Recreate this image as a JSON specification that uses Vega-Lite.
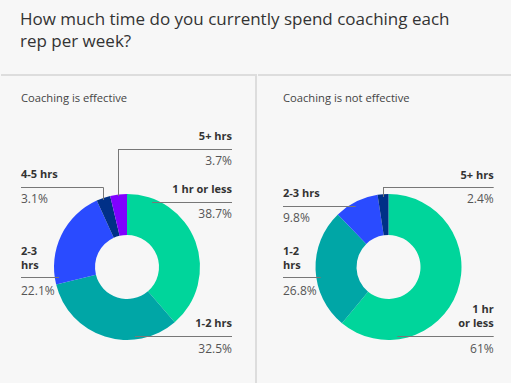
{
  "$schema": "https://vega.github.io/schema/vega-lite/v6.json",
  "background": "#f7f7f7",
  "autosize": {"type": "pad"},
  "padding": {"left": 0, "top": 11, "right": 0, "bottom": 0},
  "title": {
    "text": ["How much time do you currently spend coaching each", "rep per week?"],
    "anchor": "start",
    "dx": 20,
    "offset": 22,
    "fontSize": 17,
    "lineHeight": 22,
    "font": "Open Sans",
    "fontWeight": "normal",
    "color": "#333333"
  },
  "config": {
    "view": {"stroke": null},
    "axis": {"disable": true},
    "legend": {"disable": true}
  },
  "spacing": 0,
  "resolve": {"scale": {"color": "independent", "theta": "independent"}},
  "hconcat": [
    {
      "width": 255,
      "height": 311,
      "data": {"values": [
        {"panel": "Coaching is effective", "time": "1 hr or less", "label": "1 hr or less", "share": 0.387},
        {"panel": "Coaching is effective", "time": "1-2 hrs", "label": "1-2 hrs", "share": 0.325},
        {"panel": "Coaching is effective", "time": "2-3 hrs", "label": "2-3\nhrs", "share": 0.221},
        {"panel": "Coaching is effective", "time": "4-5 hrs", "label": "4-5 hrs", "share": 0.031},
        {"panel": "Coaching is effective", "time": "5+ hrs", "label": "5+ hrs", "share": 0.037}
      ]},
      "layer": [
        {
          "mark": {"type": "arc", "outerRadius": 73, "innerRadius": 32},
          "encoding": {
            "theta": {"field": "share", "type": "quantitative", "stack": "normalize"},
            "color": {"field": "time", "type": "nominal", "legend": null,
              "scale": {"domain": ["1 hr or less", "1-2 hrs", "2-3 hrs", "4-5 hrs", "5+ hrs"],
                        "range": ["#00d59b", "#00a6a6", "#2a4bff", "#003087", "#8000ff"]}},
            "x": {"datum": 126, "type": "quantitative", "axis": null, "scale": {"domain": [0, 255], "nice": false, "zero": false}},
            "y": {"datum": 193, "type": "quantitative", "axis": null, "scale": {"domain": [0, 311], "nice": false, "zero": false, "reverse": true}}
          }
        },
        {
          "transform": [{"aggregate": [{"op": "count", "as": "n"}], "groupby": ["panel"]}],
          "mark": {"type": "rule", "color": "#dddddd", "strokeWidth": 2},
          "encoding": {"x": {"datum": 0}, "x2": {"datum": 255}, "y": {"datum": 1}}
        },
        {
          "transform": [{"aggregate": [{"op": "count", "as": "n"}], "groupby": ["panel"]}],
          "mark": {"type": "rule", "color": "#dddddd", "strokeWidth": 2},
          "encoding": {"x": {"datum": 255}, "y": {"datum": 0}, "y2": {"datum": 311}}
        },
        {
          "transform": [{"aggregate": [{"op": "count", "as": "n"}], "groupby": ["panel"]}],
          "mark": {"type": "text", "align": "left", "baseline": "alphabetic", "fontSize": 11.2, "font": "Open Sans", "color": "#444444"},
          "encoding": {"x": {"datum": 20}, "y": {"datum": 28}, "text": {"field": "panel", "type": "nominal"}}
        },

        {"transform": [{"filter": "datum.time === '5+ hrs'"}],
          "mark": {"type": "text", "align": "right", "baseline": "alphabetic", "fontSize": 11, "fontWeight": "bold", "font": "Open Sans", "color": "#333333", "lineBreak": "\n", "lineHeight": 14},
          "encoding": {"x": {"datum": 231}, "y": {"datum": 66}, "text": {"field": "label", "type": "nominal"}}},
        {"transform": [{"filter": "datum.time === '5+ hrs'"}],
          "mark": {"type": "text", "align": "right", "baseline": "alphabetic", "fontSize": 12, "font": "Open Sans", "color": "#555555"},
          "encoding": {"x": {"datum": 231}, "y": {"datum": 91}, "text": {"field": "share", "type": "quantitative", "format": ".1~%"}}},
        {"transform": [{"filter": "datum.time === '5+ hrs'"}],
          "mark": {"type": "rule", "color": "#777777", "strokeWidth": 1},
          "encoding": {"x": {"datum": 117}, "x2": {"datum": 231}, "y": {"datum": 75.5}}},
        {"transform": [{"filter": "datum.time === '5+ hrs'"}],
          "mark": {"type": "rule", "color": "#777777", "strokeWidth": 1},
          "encoding": {"x": {"datum": 117.5}, "y": {"datum": 75.5}, "y2": {"datum": 122}}},

        {"transform": [{"filter": "datum.time === '4-5 hrs'"}],
          "mark": {"type": "text", "align": "left", "baseline": "alphabetic", "fontSize": 11, "fontWeight": "bold", "font": "Open Sans", "color": "#333333", "lineBreak": "\n", "lineHeight": 14},
          "encoding": {"x": {"datum": 20}, "y": {"datum": 104}, "text": {"field": "label", "type": "nominal"}}},
        {"transform": [{"filter": "datum.time === '4-5 hrs'"}],
          "mark": {"type": "text", "align": "left", "baseline": "alphabetic", "fontSize": 12, "font": "Open Sans", "color": "#555555"},
          "encoding": {"x": {"datum": 20}, "y": {"datum": 128.7}, "text": {"field": "share", "type": "quantitative", "format": ".1~%"}}},
        {"transform": [{"filter": "datum.time === '4-5 hrs'"}],
          "mark": {"type": "rule", "color": "#777777", "strokeWidth": 1},
          "encoding": {"x": {"datum": 20}, "x2": {"datum": 102.5}, "y": {"datum": 113.5}}},
        {"transform": [{"filter": "datum.time === '4-5 hrs'"}],
          "mark": {"type": "rule", "color": "#777777", "strokeWidth": 1},
          "encoding": {"x": {"datum": 102.5}, "y": {"datum": 113.5}, "y2": {"datum": 126}}},

        {"transform": [{"filter": "datum.time === '1 hr or less'"}],
          "mark": {"type": "text", "align": "right", "baseline": "alphabetic", "fontSize": 11, "fontWeight": "bold", "font": "Open Sans", "color": "#333333", "lineBreak": "\n", "lineHeight": 14},
          "encoding": {"x": {"datum": 231}, "y": {"datum": 119}, "text": {"field": "label", "type": "nominal"}}},
        {"transform": [{"filter": "datum.time === '1 hr or less'"}],
          "mark": {"type": "text", "align": "right", "baseline": "alphabetic", "fontSize": 12, "font": "Open Sans", "color": "#555555"},
          "encoding": {"x": {"datum": 231}, "y": {"datum": 144}, "text": {"field": "share", "type": "quantitative", "format": ".1~%"}}},
        {"transform": [{"filter": "datum.time === '1 hr or less'"}],
          "mark": {"type": "rule", "color": "#777777", "strokeWidth": 1},
          "encoding": {"x": {"datum": 151}, "x2": {"datum": 231}, "y": {"datum": 128.5}}},

        {"transform": [{"filter": "datum.time === '2-3 hrs'"}],
          "mark": {"type": "text", "align": "left", "baseline": "alphabetic", "fontSize": 11, "fontWeight": "bold", "font": "Open Sans", "color": "#333333", "lineBreak": "\n", "lineHeight": 14},
          "encoding": {"x": {"datum": 20}, "y": {"datum": 181}, "text": {"field": "label", "type": "nominal"}}},
        {"transform": [{"filter": "datum.time === '2-3 hrs'"}],
          "mark": {"type": "text", "align": "left", "baseline": "alphabetic", "fontSize": 12, "font": "Open Sans", "color": "#555555"},
          "encoding": {"x": {"datum": 20}, "y": {"datum": 220.7}, "text": {"field": "share", "type": "quantitative", "format": ".1~%"}}},
        {"transform": [{"filter": "datum.time === '2-3 hrs'"}],
          "mark": {"type": "rule", "color": "#777777", "strokeWidth": 1},
          "encoding": {"x": {"datum": 20}, "x2": {"datum": 58}, "y": {"datum": 203.5}}},

        {"transform": [{"filter": "datum.time === '1-2 hrs'"}],
          "mark": {"type": "text", "align": "right", "baseline": "alphabetic", "fontSize": 11, "fontWeight": "bold", "font": "Open Sans", "color": "#333333", "lineBreak": "\n", "lineHeight": 14},
          "encoding": {"x": {"datum": 231}, "y": {"datum": 253}, "text": {"field": "label", "type": "nominal"}}},
        {"transform": [{"filter": "datum.time === '1-2 hrs'"}],
          "mark": {"type": "text", "align": "right", "baseline": "alphabetic", "fontSize": 12, "font": "Open Sans", "color": "#555555"},
          "encoding": {"x": {"datum": 231}, "y": {"datum": 278.7}, "text": {"field": "share", "type": "quantitative", "format": ".1~%"}}},
        {"transform": [{"filter": "datum.time === '1-2 hrs'"}],
          "mark": {"type": "rule", "color": "#777777", "strokeWidth": 1},
          "encoding": {"x": {"datum": 134}, "x2": {"datum": 231}, "y": {"datum": 262.5}}}
      ]
    },
    {
      "width": 256,
      "height": 311,
      "data": {"values": [
        {"panel": "Coaching is not effective", "time": "1 hr or less", "label": "1 hr\nor less", "share": 0.61},
        {"panel": "Coaching is not effective", "time": "1-2 hrs", "label": "1-2\nhrs", "share": 0.268},
        {"panel": "Coaching is not effective", "time": "2-3 hrs", "label": "2-3 hrs", "share": 0.098},
        {"panel": "Coaching is not effective", "time": "5+ hrs", "label": "5+ hrs", "share": 0.024}
      ]},
      "layer": [
        {
          "mark": {"type": "arc", "outerRadius": 73, "innerRadius": 32},
          "encoding": {
            "theta": {"field": "share", "type": "quantitative", "stack": "normalize"},
            "color": {"field": "time", "type": "nominal", "legend": null,
              "scale": {"domain": ["1 hr or less", "1-2 hrs", "2-3 hrs", "5+ hrs"],
                        "range": ["#00d59b", "#00a6a6", "#2a4bff", "#003087"]}},
            "x": {"datum": 130.5, "type": "quantitative", "axis": null, "scale": {"domain": [0, 256], "nice": false, "zero": false}},
            "y": {"datum": 193, "type": "quantitative", "axis": null, "scale": {"domain": [0, 311], "nice": false, "zero": false, "reverse": true}}
          }
        },
        {
          "transform": [{"aggregate": [{"op": "count", "as": "n"}], "groupby": ["panel"]}],
          "mark": {"type": "rule", "color": "#dddddd", "strokeWidth": 2},
          "encoding": {"x": {"datum": 0}, "x2": {"datum": 256}, "y": {"datum": 1}}
        },
        {
          "transform": [{"aggregate": [{"op": "count", "as": "n"}], "groupby": ["panel"]}],
          "mark": {"type": "text", "align": "left", "baseline": "alphabetic", "fontSize": 11.2, "font": "Open Sans", "color": "#444444"},
          "encoding": {"x": {"datum": 25}, "y": {"datum": 28}, "text": {"field": "panel", "type": "nominal"}}
        },

        {"transform": [{"filter": "datum.time === '5+ hrs'"}],
          "mark": {"type": "text", "align": "right", "baseline": "alphabetic", "fontSize": 11, "fontWeight": "bold", "font": "Open Sans", "color": "#333333", "lineBreak": "\n", "lineHeight": 14},
          "encoding": {"x": {"datum": 235.7}, "y": {"datum": 104.7}, "text": {"field": "label", "type": "nominal"}}},
        {"transform": [{"filter": "datum.time === '5+ hrs'"}],
          "mark": {"type": "text", "align": "right", "baseline": "alphabetic", "fontSize": 12, "font": "Open Sans", "color": "#555555"},
          "encoding": {"x": {"datum": 235.7}, "y": {"datum": 128.7}, "text": {"field": "share", "type": "quantitative", "format": ".1~%"}}},
        {"transform": [{"filter": "datum.time === '5+ hrs'"}],
          "mark": {"type": "rule", "color": "#777777", "strokeWidth": 1},
          "encoding": {"x": {"datum": 125}, "x2": {"datum": 235.7}, "y": {"datum": 113.5}}},
        {"transform": [{"filter": "datum.time === '5+ hrs'"}],
          "mark": {"type": "rule", "color": "#777777", "strokeWidth": 1},
          "encoding": {"x": {"datum": 125.5}, "y": {"datum": 113.5}, "y2": {"datum": 123}}},

        {"transform": [{"filter": "datum.time === '2-3 hrs'"}],
          "mark": {"type": "text", "align": "left", "baseline": "alphabetic", "fontSize": 11, "fontWeight": "bold", "font": "Open Sans", "color": "#333333", "lineBreak": "\n", "lineHeight": 14},
          "encoding": {"x": {"datum": 25}, "y": {"datum": 123}, "text": {"field": "label", "type": "nominal"}}},
        {"transform": [{"filter": "datum.time === '2-3 hrs'"}],
          "mark": {"type": "text", "align": "left", "baseline": "alphabetic", "fontSize": 12, "font": "Open Sans", "color": "#555555"},
          "encoding": {"x": {"datum": 25}, "y": {"datum": 148}, "text": {"field": "share", "type": "quantitative", "format": ".1~%"}}},
        {"transform": [{"filter": "datum.time === '2-3 hrs'"}],
          "mark": {"type": "rule", "color": "#777777", "strokeWidth": 1},
          "encoding": {"x": {"datum": 25}, "x2": {"datum": 97.7}, "y": {"datum": 132.5}}},

        {"transform": [{"filter": "datum.time === '1-2 hrs'"}],
          "mark": {"type": "text", "align": "left", "baseline": "alphabetic", "fontSize": 11, "fontWeight": "bold", "font": "Open Sans", "color": "#333333", "lineBreak": "\n", "lineHeight": 14},
          "encoding": {"x": {"datum": 25}, "y": {"datum": 181.3}, "text": {"field": "label", "type": "nominal"}}},
        {"transform": [{"filter": "datum.time === '1-2 hrs'"}],
          "mark": {"type": "text", "align": "left", "baseline": "alphabetic", "fontSize": 12, "font": "Open Sans", "color": "#555555"},
          "encoding": {"x": {"datum": 25}, "y": {"datum": 220.7}, "text": {"field": "share", "type": "quantitative", "format": ".1~%"}}},
        {"transform": [{"filter": "datum.time === '1-2 hrs'"}],
          "mark": {"type": "rule", "color": "#777777", "strokeWidth": 1},
          "encoding": {"x": {"datum": 25}, "x2": {"datum": 62.7}, "y": {"datum": 203.5}}},

        {"transform": [{"filter": "datum.time === '1 hr or less'"}],
          "mark": {"type": "text", "align": "right", "baseline": "alphabetic", "fontSize": 11, "fontWeight": "bold", "font": "Open Sans", "color": "#333333", "lineBreak": "\n", "lineHeight": 14},
          "encoding": {"x": {"datum": 235.7}, "y": {"datum": 238.7}, "text": {"field": "label", "type": "nominal"}}},
        {"transform": [{"filter": "datum.time === '1 hr or less'"}],
          "mark": {"type": "text", "align": "right", "baseline": "alphabetic", "fontSize": 12, "font": "Open Sans", "color": "#555555"},
          "encoding": {"x": {"datum": 235.7}, "y": {"datum": 278.7}, "text": {"field": "share", "type": "quantitative", "format": ".1~%"}}},
        {"transform": [{"filter": "datum.time === '1 hr or less'"}],
          "mark": {"type": "rule", "color": "#777777", "strokeWidth": 1},
          "encoding": {"x": {"datum": 139.3}, "x2": {"datum": 235.7}, "y": {"datum": 262.5}}}
      ]
    }
  ]
}
